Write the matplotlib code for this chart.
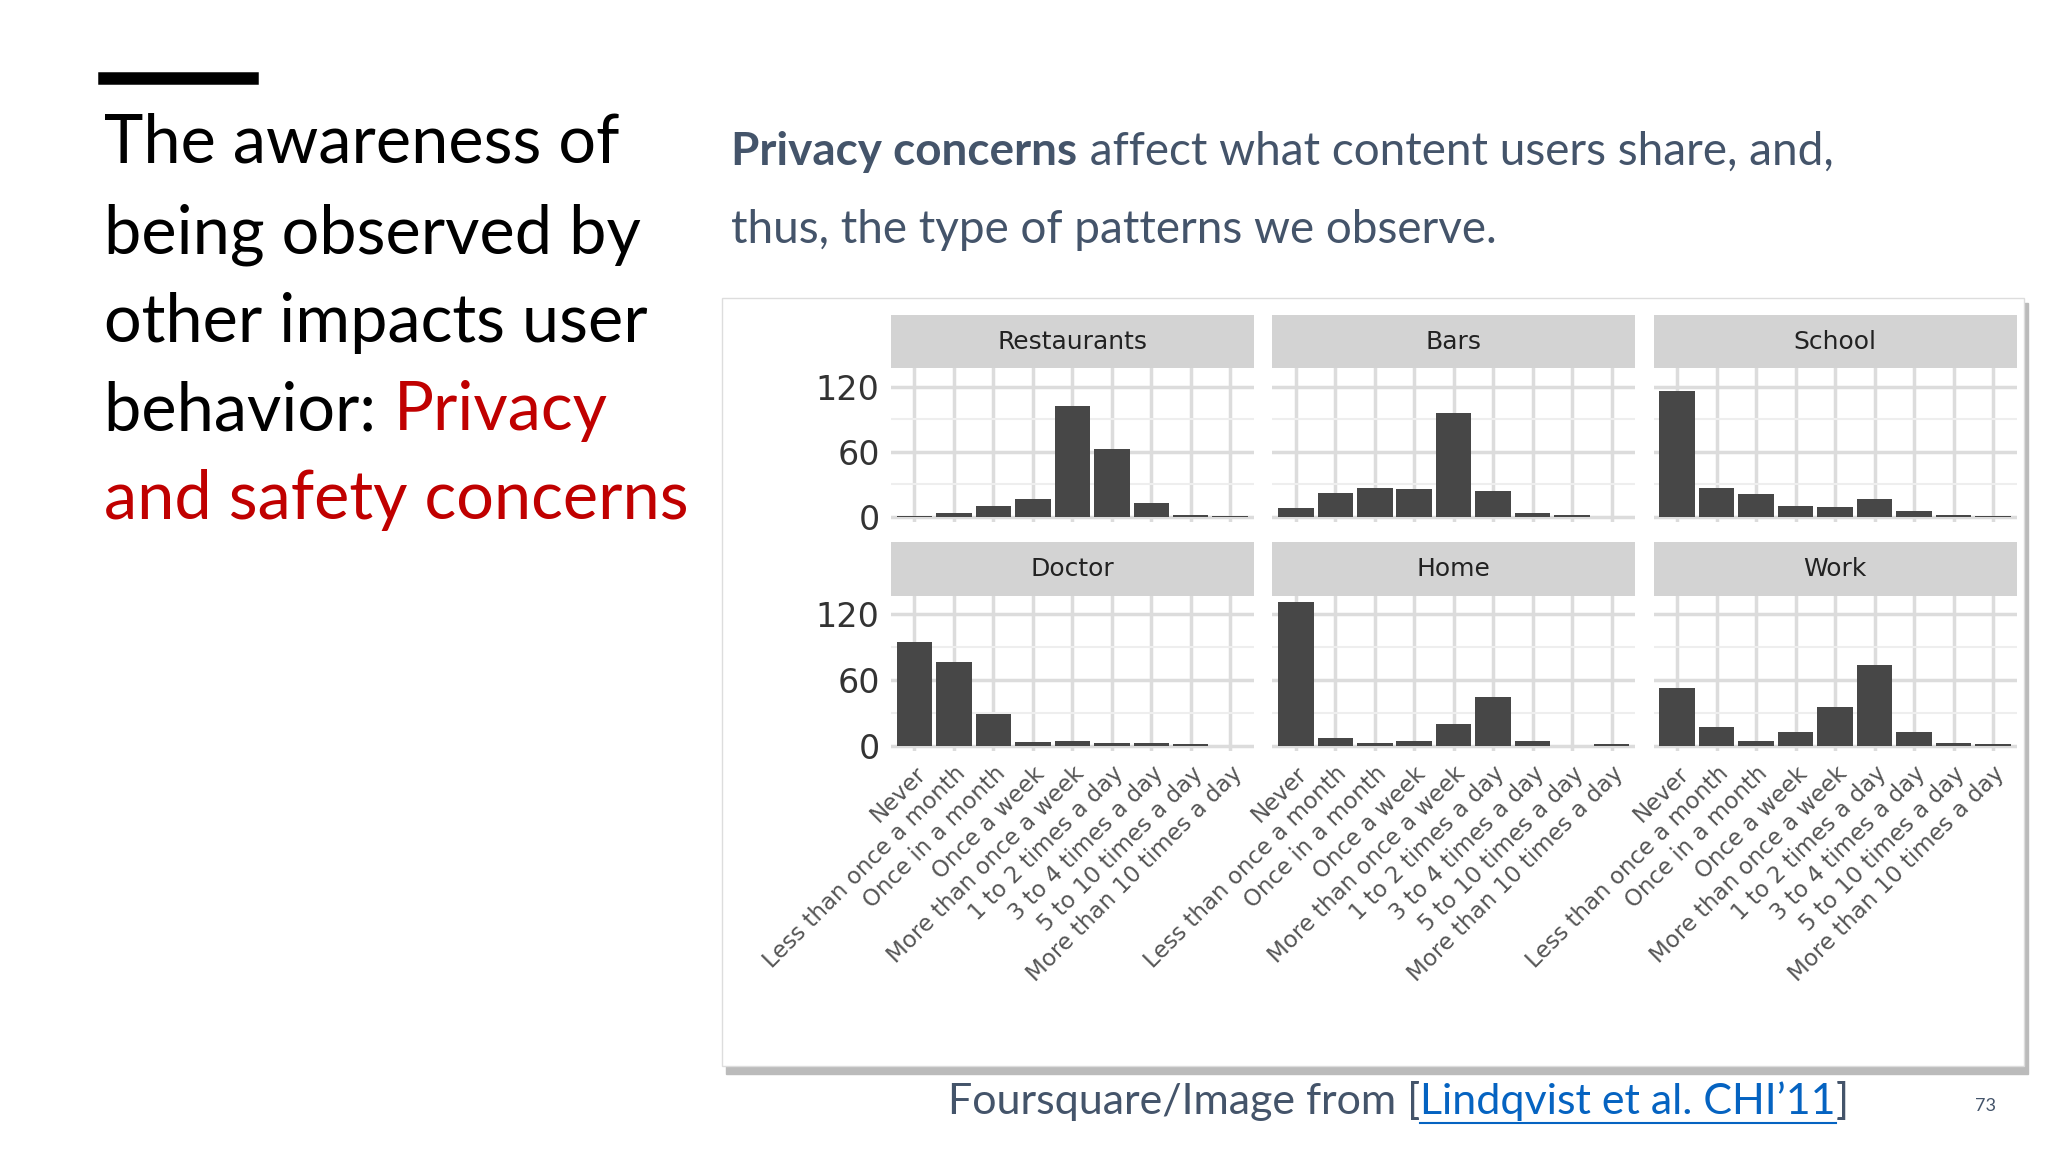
import matplotlib
matplotlib.use("Agg")
import matplotlib.pyplot as plt
from matplotlib.patches import Rectangle

categories = ["Never", "Less than once a month", "Once in a month", "Once a week",
              "More than once a week", "1 to 2 times a day", "3 to 4 times a day",
              "5 to 10 times a day", "More than 10 times a day"]
panels = ["Restaurants", "Bars", "School", "Doctor", "Home", "Work"]
restaurants = [1, 4, 10, 17, 102, 63, 13, 2, 1]
bars = [8, 22, 27, 26, 96, 24, 4, 2, 0]
school = [116, 27, 21, 10, 9, 17, 6, 2, 1]
doctor = [95, 76, 29, 3, 4, 2, 2, 1, 0]
home = [131, 7, 2, 4, 20, 44, 4, 0, 1]
work = [53, 17, 4, 12, 35, 74, 12, 2, 1]
values = [restaurants, bars, school, doctor, home, work]
yticks = [0, 60, 120]

W, H = 1568, 882  # layout in reference display units
fig = plt.figure(figsize=(20.48, 11.52), dpi=100)
fig.patch.set_facecolor("white")

def fx(x): return x / W
def fy(y): return 1 - y / H

# slide text
fig.add_artist(plt.Line2D([fx(80), fx(193)], [fy(60), fy(60)], color="black", lw=9))
lines = [("The awareness of", None), ("being observed by", None), ("other impacts user", None),
         ("behavior: ", "Privacy"), ("and safety concerns", "red")]
ys = [110, 180, 247, 315, 383]
TS = 48
for (t, extra), y in zip(lines, ys):
    if extra == "red":
        fig.text(fx(80), fy(y), t, fontsize=TS, family="Lato", color="#c00000", va="center")
    else:
        txt = fig.text(fx(80), fy(y), t, fontsize=TS, family="Lato", color="black", va="center")
        if extra:
            fig.canvas.draw()
            bb = txt.get_window_extent()
            fig.text(bb.x1 / fig.bbox.width, fy(y), extra, fontsize=TS, family="Lato",
                     color="#c00000", va="center")

SS = 33
sub = fig.text(fx(560), fy(116), "Privacy concerns", fontsize=SS, family="Lato",
               weight="bold", color="#44546a", va="center")
fig.canvas.draw()
bb = sub.get_window_extent()
fig.text(bb.x1 / fig.bbox.width, fy(116), " affect what content users share, and,",
         fontsize=SS, family="Lato", color="#44546a", va="center")
fig.text(fx(560), fy(176), "thus, the type of patterns we observe.", fontsize=SS,
         family="Lato", color="#44546a", va="center")

CS = 31
cap = fig.text(fx(726), fy(843), "Foursquare/Image from [", fontsize=CS, family="Lato",
               color="#44546a", va="center")
fig.canvas.draw()
bb = cap.get_window_extent()
lk = fig.text(bb.x1 / fig.bbox.width, fy(843), "Lindqvist et al. CHI\u201911", fontsize=CS,
              family="Lato", color="#0563c1", va="center")
fig.canvas.draw()
bb2 = lk.get_window_extent()
fig.add_artist(plt.Line2D([bb.x1 / fig.bbox.width, bb2.x1 / fig.bbox.width],
                          [fy(860), fy(860)], color="#0563c1", lw=1.5))
fig.text(bb2.x1 / fig.bbox.width, fy(843), "]", fontsize=CS, family="Lato",
         color="#44546a", va="center")
fig.text(fx(1520), fy(847), "73", fontsize=13, family="Lato", color="#44546a",
         ha="center", va="center")

# chart frame with shadow
fig.add_artist(Rectangle((fx(556), fy(822)), fx(997), 590 / H, color="#bbbbbb",
                         transform=fig.transFigure, zorder=0))
fig.add_artist(Rectangle((fx(553), fy(816)), fx(997), 588 / H, facecolor="white",
                         edgecolor="#dddddd", transform=fig.transFigure, zorder=0))

xl = [682, 974, 1266]
pw = 278
rows = [(241, 282, 400), (415, 456, 575)]
for i, (name, vals) in enumerate(zip(panels, values)):
    r, c = divmod(i, 3)
    st, pt, pb = rows[r]
    ax = fig.add_axes([fx(xl[c]), fy(pb), fx(pw), (pb - pt) / H])
    ax.bar(range(len(categories)), vals, width=0.9, color="#474747", zorder=3)
    ax.set_xlim(-0.6, len(categories) - 0.4)
    ax.set_ylim(-5, 137)
    ax.set_yticks(yticks)
    ax.set_yticks([30, 90], minor=True)
    ax.set_xticks(range(len(categories)))
    ax.grid(True, which="major", color="#dcdcdc", lw=2.5, zorder=0)
    ax.grid(True, which="minor", axis="y", color="#eeeeee", lw=1.5, zorder=0)
    for s in ax.spines.values():
        s.set_visible(False)
    ax.tick_params(which="both", length=0, labelsize=19, colors="#333333", pad=8)
    if c == 0:
        ax.set_yticklabels([str(v) for v in yticks], fontsize=24)
    else:
        ax.set_yticklabels([])
    if r == 1:
        ax.set_xticklabels(categories, rotation=45, ha="right", rotation_mode="anchor",
                           fontsize=16.5, color="#555555")
    else:
        ax.set_xticklabels([])
    sax = fig.add_axes([fx(xl[c]), fy(pt), fx(pw), (pt - st) / H])
    sax.set_facecolor("#d3d3d3")
    sax.set_xticks([]); sax.set_yticks([])
    for s in sax.spines.values():
        s.set_visible(False)
    sax.text(0.5, 0.5, name, ha="center", va="center", fontsize=18, color="#222222",
             transform=sax.transAxes)

fig.savefig("out.png", dpi=100)
